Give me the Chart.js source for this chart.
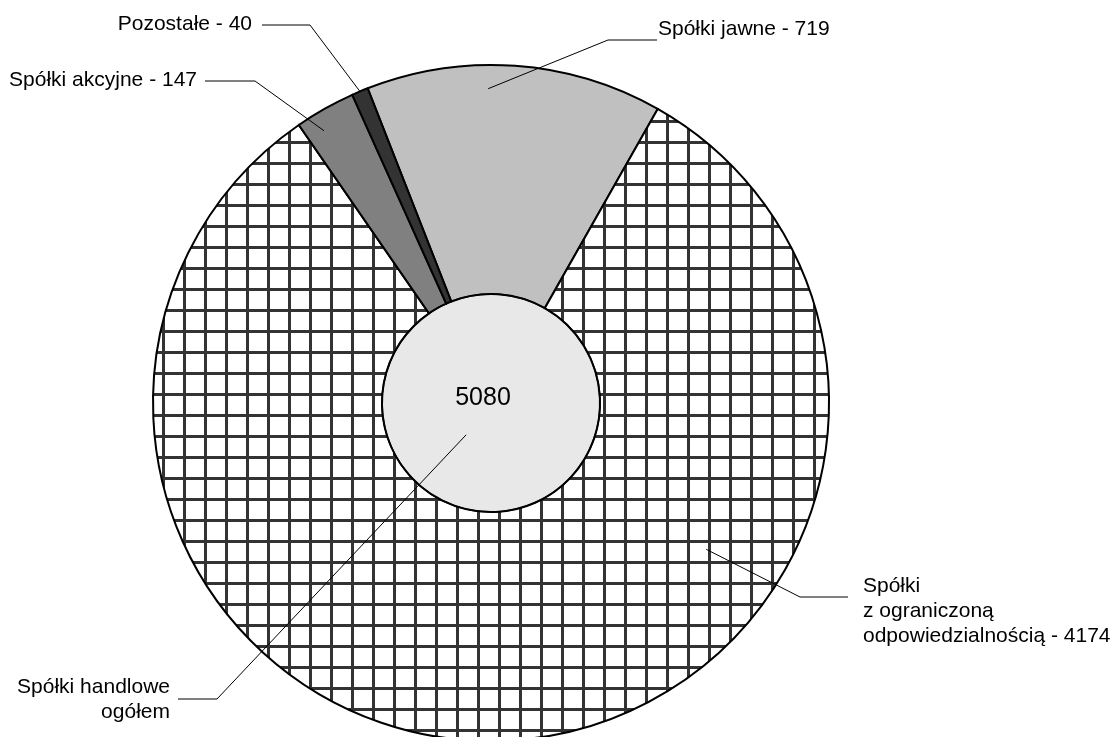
<!DOCTYPE html>
<html lang="pl">
<head>
<meta charset="utf-8">
<script src="https://cdn.jsdelivr.net/npm/chart.js@4/dist/chart.umd.min.js"></script>
<style>
    html, body { margin: 0; padding: 0; background: #fff; overflow: hidden; }
    #wrap { position: relative; width: 1117px; height: 760px; }
</style>
</head>
<body>
<div id="wrap"><canvas id="pie"></canvas></div>
<script>
// Dane
const categories = ['Spółki jawne', 'Spółki\nz ograniczoną\nodpowiedzialnością', 'Spółki akcyjne', 'Pozostałe'];
const values = [719, 4174, 147, 40];
const totalCategory = 'Spółki handlowe\nogółem';
const totalValues = [5080];

// Kratka dla spółek z o.o.
function makeHatch() {
    const c = document.createElement('canvas');
    c.width = 21; c.height = 21;
    const g = c.getContext('2d');
    g.fillStyle = '#ffffff';
    g.fillRect(0, 0, 21, 21);
    g.fillStyle = '#333333';
    g.fillRect(15, 0, 3, 21);
    g.fillRect(0, 15, 21, 3);
    return g.createPattern(c, 'repeat');
}

// Podpisy z liniami odniesienia (ds, idx, t = ułamek kąta, r = ułamek promienia)
const callouts = [
    { ds: 0, idx: 3, t: 0.5, r: 1.0, elbow: [310, 25], start: [262, 25], tx: 252, ty: 24, align: 'right' },
    { ds: 0, idx: 2, t: 0.3, r: 0.945, elbow: [255, 81], start: [205, 81], tx: 197, ty: 80, align: 'right' },
    { ds: 0, idx: 0, t: 0.41, r: 0.93, elbow: [608, 40], start: [657, 40], tx: 658, ty: 29, align: 'left' },
    { ds: 0, idx: 1, t: 0.32, r: 0.77, elbow: [800, 597], start: [848, 597], tx: 863, ty: 586, align: 'left' },
    { ds: 1, idx: 0, t: 0.665, r: 0.37, elbow: [217, 699], start: [178, 699], tx: 170, ty: 687, align: 'right' }
];

const calloutPlugin = {
    id: 'callouts',
    afterDatasetsDraw(chart) {
        // obrys koła w środku (bez promienia, który rysuje Chart.js)
        const inner = chart.getDatasetMeta(1).data[0];
        const ctx = chart.ctx;
        ctx.save();
        ctx.strokeStyle = '#000';
        ctx.lineWidth = 1.5;
        ctx.beginPath();
        ctx.arc(inner.x, inner.y, inner.outerRadius, 0, Math.PI * 2);
        ctx.stroke();
        ctx.restore();
    },
    afterDraw(chart) {
        const ctx = chart.ctx;
        ctx.save();
        ctx.font = '21px "Liberation Sans", Arial, sans-serif';
        ctx.fillStyle = '#000';
        ctx.strokeStyle = '#000';
        ctx.lineWidth = 1;
        callouts.forEach(c => {
            const arc = chart.getDatasetMeta(c.ds).data[c.idx];
            const p = arc.getProps(['x', 'y', 'startAngle', 'endAngle', 'outerRadius']);
            const a = p.startAngle + (p.endAngle - p.startAngle) * c.t;
            const ax = p.x + Math.cos(a) * p.outerRadius * c.r;
            const ay = p.y + Math.sin(a) * p.outerRadius * c.r;
            ctx.beginPath();
            ctx.moveTo(c.start[0], c.start[1]);
            ctx.lineTo(c.elbow[0], c.elbow[1]);
            ctx.lineTo(ax, ay);
            ctx.stroke();

            let text;
            if (c.ds === 0) {
                text = categories[c.idx] + ' - ' + values[c.idx];
            } else {
                text = totalCategory;
            }
            ctx.textAlign = c.align;
            ctx.textBaseline = 'middle';
            text.split('\n').forEach((line, i) => {
                ctx.fillText(line, c.tx, c.ty + i * 25);
            });
        });

        // suma w środku
        const inner = chart.getDatasetMeta(1).data[0];
        ctx.font = '25px "Liberation Sans", Arial, sans-serif';
        ctx.textAlign = 'center';
        ctx.textBaseline = 'middle';
        ctx.fillText(String(totalValues[0]), inner.x - 8, inner.y - 5);
        ctx.restore();
    }
};

const ctx = document.getElementById('pie').getContext('2d');
const hatch = makeHatch();

new Chart(ctx, {
    type: 'doughnut',
    data: {
        labels: categories,
        datasets: [
            {
                data: values,
                backgroundColor: ['#c0c0c0', hatch, '#808080', '#333333'],
                borderColor: '#000',
                borderWidth: 2,
                borderJoinStyle: 'miter',
                weight: 2.1
            },
            {
                data: totalValues,
                backgroundColor: ['#e8e8e8'],
                borderWidth: 0,
                weight: 1
            }
        ]
    },
    options: {
        responsive: true,
        maintainAspectRatio: false,
        animation: false,
        events: [],
        cutout: 0,
        rotation: -21.4,
        layout: { padding: { left: 0, right: 135, top: 64, bottom: 18 } },
        plugins: {
            legend: { display: false },
            tooltip: { enabled: false }
        }
    },
    plugins: [calloutPlugin]
});
</script>
</body>
</html>
